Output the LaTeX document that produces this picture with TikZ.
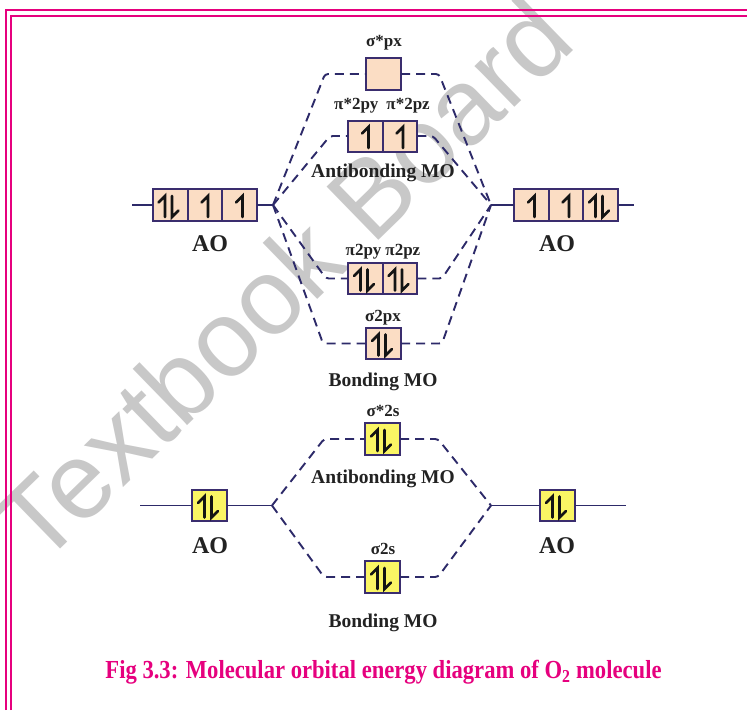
\documentclass[tikz,border=0pt]{standalone}
\usepackage{fontspec}
\setmainfont{Liberation Serif}
\newfontfamily\wmfont{Liberation Sans}
\definecolor{navy}{RGB}{45,42,105}
\definecolor{boxline}{RGB}{58,45,110}
\definecolor{peach}{RGB}{251,221,196}
\definecolor{yel}{RGB}{250,245,100}
\definecolor{txt}{RGB}{34,34,34}
\definecolor{spinc}{RGB}{20,20,20}
\definecolor{mag}{RGB}{230,0,126}
\definecolor{wm}{RGB}{200,200,200}
\tikzset{
  lnk/.style={draw=navy, line width=1.9pt},
  dsh/.style={draw=navy, line width=1.9pt, dash pattern=on 9pt off 6pt, rounded corners=3pt},
  orb/.style={draw=boxline, line width=2pt, minimum width=35pt, minimum height=32pt, inner sep=0pt, outer sep=0pt},
  pk/.style={orb, fill=peach},
  yl/.style={orb, fill=yel},
  lab/.style={font=\fontsize{17}{17}\selectfont\bfseries, text=txt, inner sep=0pt},
  big/.style={font=\fontsize{19.5}{19.5}\selectfont\bfseries, text=txt, inner sep=0pt},
  aolab/.style={font=\fontsize{24}{24}\selectfont\bfseries, text=txt, inner sep=0pt},
  spin/.style={line width=2.8pt, draw=spinc, line cap=round, line join=miter},
  upspin/.pic={\draw[spin] (0,12) -- (0,-9) -- (-6.5,-2.5);},
  dnspin/.pic={\draw[spin] (0,-9) -- (0,12) -- (6.5,5.5);},
  pairspin/.pic={\pic at (-5,0) {upspin}; \pic at (2,0) {dnspin};},
  onespin/.pic={\pic at (3,0) {upspin};}
}
\begin{document}
\begin{tikzpicture}[x=1pt,y=-1pt]
\useasboundingbox (0,0) rectangle (747,710);
\clip (0,0) rectangle (747,710);
\fill[white] (0,0) rectangle (747,710);
% watermark
\node[text=wm, rotate=44.2, font=\wmfont\fontsize{108}{108}\selectfont, inner sep=0pt] (wmark) at (283,279) {Textbook Board};
% frame
\draw[mag, line width=2.5pt] (6,710) -- (6,10) -- (747,10);
\draw[mag, line width=2.5pt] (11,710) -- (11,16) -- (747,16);

% ---------- 2p region ----------
\coordinate (L) at (273,205);
\coordinate (R) at (491,205);
\coordinate (Ls) at (132,205);
\coordinate (Re) at (634,205);
% left AO
\node[pk] (la1) at (170,205) {};
\node[pk, minimum width=34pt] (la2) at (205,205) {};
\node[pk] (la3) at (239.5,205) {};
\pic at (la1) {pairspin};
\pic at (la2) {onespin};
\pic at (la3) {onespin};
% right AO
\node[pk] (ra1) at (531.5,205) {};
\node[pk, minimum width=34pt] (ra2) at (566,205) {};
\node[pk] (ra3) at (600.5,205) {};
\pic at (ra1) {onespin};
\pic at (ra2) {onespin};
\pic at (ra3) {pairspin};
\draw[lnk] (Ls) -- (la1.west);
\draw[lnk] (la3.east) -- (L);
\draw[lnk] (R) -- (ra1.west);
\draw[lnk] (ra3.east) -- (Re);
\node[aolab] (aoL) at (210,244) {AO};
\node[aolab] (aoR) at (557,244) {AO};

% sigma* px
\node[pk] (sxs) at (383.5,74) {};
\node[lab] (sxsl) at (384,43) {σ*px};
% pi* 2p
\node[pk, minimum width=34.5pt, minimum height=31pt] (ps1) at (365.5,136) {};
\node[pk, minimum width=34.5pt, minimum height=31pt] (ps2) at (400,136) {};
\pic at (ps1) {onespin};
\pic at (ps2) {onespin};
\node[lab] (psl) at (382,106) {π*2py\hspace{8pt}π*2pz};
\node[big] (abl1) at (383,173) {Antibonding MO};
% pi 2p
\node[pk, minimum width=34.5pt, minimum height=31pt] (p1) at (365.5,278.5) {};
\node[pk, minimum width=34.5pt, minimum height=31pt] (p2) at (400,278.5) {};
\pic at (p1) {pairspin};
\pic at (p2) {pairspin};
\node[lab] (pl) at (383,252) {π2py\hspace{4pt}π2pz};
% sigma 2px
\node[pk, minimum height=31pt] (sx) at (383.5,343.5) {};
\pic at (sx) {pairspin};
\node[lab] (sxl) at (383,318) {σ2px};
\node[big] (bl1) at (383,382) {Bonding MO};

% dashed connectors 2p
\draw[dsh] (L) -- (325,74) -- (sxs.west);
\draw[dsh] (sxs.east) -- (439,74) -- (R);
\draw[dsh] (L) -- (330,136) -- (ps1.west);
\draw[dsh] (ps2.east) -- (433,136) -- (R);
\draw[dsh] (L) -- (326,278.5) -- (p1.west);
\draw[dsh] (p2.east) -- (442,278.5) -- (R);
\draw[dsh] (L) -- (323,343.5) -- (sx.west);
\draw[dsh] (sx.east) -- (442,343.5) -- (R);

% ---------- 2s region ----------
\coordinate (L2) at (272,505.5);
\coordinate (R2) at (491,505.5);
\coordinate (L2s) at (140,505.5);
\coordinate (R2e) at (626,505.5);
\node[yl, minimum height=31pt] (sl) at (209.5,505.5) {};
\node[yl, minimum height=31pt] (sr) at (557.5,505.5) {};
\pic at (sl) {pairspin};
\pic at (sr) {pairspin};
\draw[lnk] (L2s) -- (sl.west);
\draw[lnk] (sl.east) -- (L2);
\draw[lnk] (R2) -- (sr.west);
\draw[lnk] (sr.east) -- (R2e);
\node[aolab] (aoL2) at (210,546) {AO};
\node[aolab] (aoR2) at (557,546) {AO};

\node[yl] (sss) at (382.5,439) {};
\pic at (sss) {pairspin};
\node[lab] (sssl) at (383,411) {σ*2s};
\node[big] (abl2) at (383,479) {Antibonding MO};
\node[yl] (ss) at (382.5,577) {};
\pic at (ss) {pairspin};
\node[lab] (ssl) at (383,549) {σ2s};
\node[big] (bl2) at (383,623) {Bonding MO};

\draw[dsh] (L2) -- (324,439) -- (sss.west);
\draw[dsh] (sss.east) -- (438,439) -- (R2);
\draw[dsh] (L2) -- (324,577) -- (ss.west);
\draw[dsh] (ss.east) -- (438,577) -- (R2);

% title
\node[text=mag, font=\fontsize{26}{26}\selectfont\bfseries, xscale=0.87, inner sep=0pt] (title) at (383.5,672) {Fig 3.3: Molecular orbital energy diagram of O\textsubscript{2} molecule};
\end{tikzpicture}
\end{document}
